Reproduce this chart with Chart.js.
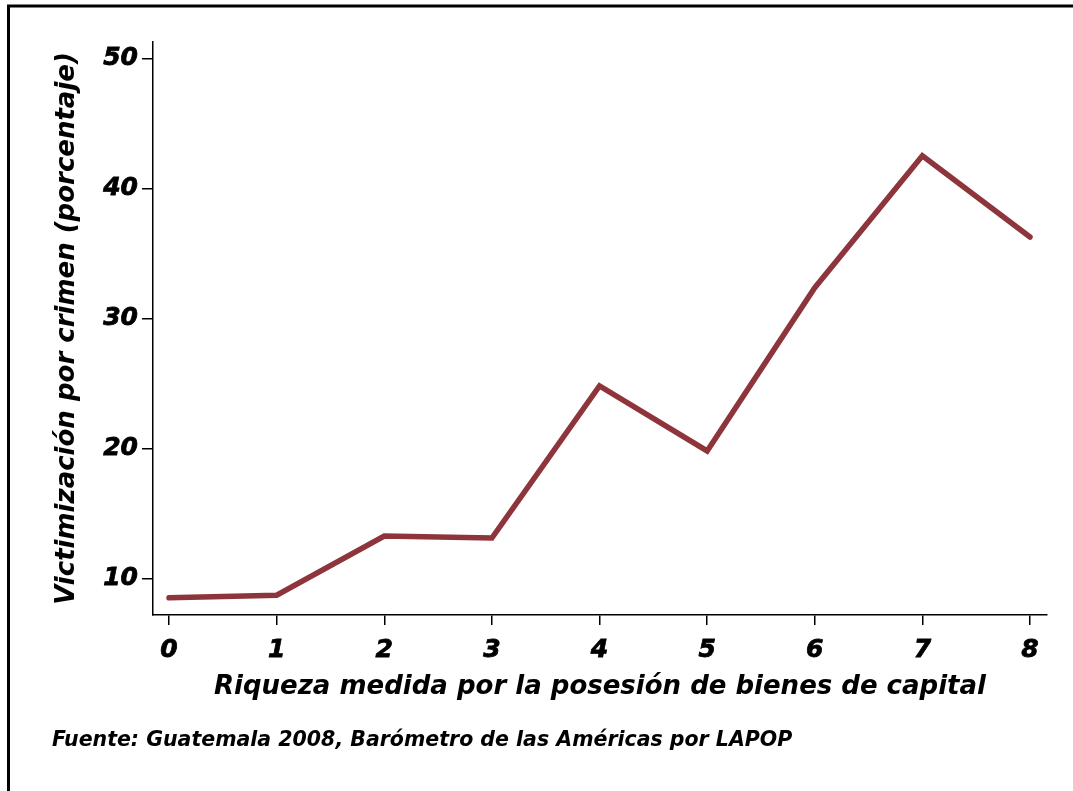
<!DOCTYPE html>
<html>
<head>
<meta charset="utf-8">
<script src="https://cdn.jsdelivr.net/npm/chart.js@4/dist/chart.umd.min.js"></script>
<style>
  html, body { margin: 0; padding: 0; background: #fff; }
  #wrap { position: relative; width: 1073px; height: 791px; }
</style>
</head>
<body>
<div id="wrap"><canvas id="riquezaChart" width="1073" height="791"></canvas></div>
<script>
// datos
const riqueza = [0, 1, 2, 3, 4, 5, 6, 7, 8];
const victimizacion = [8.55, 8.75, 13.3, 13.15, 24.85, 19.85, 32.4, 42.55, 36.3];
const yTicks = [10, 20, 30, 40, 50];
const xTicks = [0, 1, 2, 3, 4, 5, 6, 7, 8];

const fuente = 'Fuente: Guatemala 2008, Barómetro de las Américas por LAPOP';
const fontFam = "'DejaVu Sans', 'Liberation Sans', sans-serif";

// marco (lineas arriba e izquierda) y nota de fuente
const extras = {
  id: 'extras',
  afterDraw(chart) {
    const ctx = chart.ctx;
    ctx.save();
    ctx.strokeStyle = '#000';
    ctx.lineWidth = 3;
    ctx.beginPath();
    ctx.moveTo(7, 6);
    ctx.lineTo(1073, 6);
    ctx.moveTo(8.5, 5);
    ctx.lineTo(8.5, 791);
    ctx.stroke();
    ctx.fillStyle = '#000';
    ctx.font = 'italic bold 20.5px ' + fontFam;
    ctx.textBaseline = 'alphabetic';
    ctx.fillText(fuente, 52, 746);
    ctx.restore();
  }
};

new Chart(document.getElementById('riquezaChart').getContext('2d'), {
  type: 'line',
  data: {
    datasets: [{
      data: riqueza.map((x, i) => ({ x: x, y: victimizacion[i] })),
      borderColor: '#8e343b',
      borderWidth: 5.5,
      borderCapStyle: 'round',
      borderJoinStyle: 'miter',
      pointRadius: 0,
      fill: false,
      tension: 0
    }]
  },
  options: {
    responsive: false,
    animation: false,
    layout: { padding: { left: 0, top: 42, right: 26, bottom: 76 } },
    plugins: { legend: { display: false }, tooltip: { enabled: false } },
    scales: {
      x: {
        type: 'linear',
        min: -0.149,
        max: 8.158,
        afterBuildTicks: s => { s.ticks = xTicks.map(v => ({ value: v })); },
        afterFit: s => { s.height = 100; },
        grid: { display: true, drawOnChartArea: false, drawTicks: true, tickLength: 10, color: '#000', lineWidth: 1.5 },
        border: { display: true, color: '#000', width: 1.5 },
        ticks: { color: '#000', padding: 10, maxRotation: 0, textStrokeColor: '#000', textStrokeWidth: 0.8, font: { family: fontFam, size: 25, style: 'italic', weight: 'bold' } },
        title: {
          display: true,
          text: 'Riqueza medida por la posesión de bienes de capital',
          color: '#000',
          padding: { top: 0, bottom: 12 },
          font: { family: fontFam, size: 26, style: 'italic', weight: 'bold', lineHeight: 1.2 }
        }
      },
      y: {
        min: 7.23,
        max: 51.3,
        afterBuildTicks: s => { s.ticks = yTicks.map(v => ({ value: v })); },
        afterFit: s => { s.width = 153; },
        grid: { display: true, drawOnChartArea: false, drawTicks: true, tickLength: 11, color: '#000', lineWidth: 1.5 },
        border: { display: true, color: '#000', width: 1.5 },
        ticks: { color: '#000', padding: 4, textStrokeColor: '#000', textStrokeWidth: 0.8, font: { family: fontFam, size: 25, style: 'italic', weight: 'bold' } },
        title: {
          display: true,
          text: 'Victimización por crimen (porcentaje)',
          color: '#000',
          padding: { top: 52, bottom: 0 },
          font: { family: fontFam, size: 26, style: 'italic', weight: 'bold', lineHeight: 1.2 }
        }
      }
    }
  },
  plugins: [extras]
});
</script>
</body>
</html>
